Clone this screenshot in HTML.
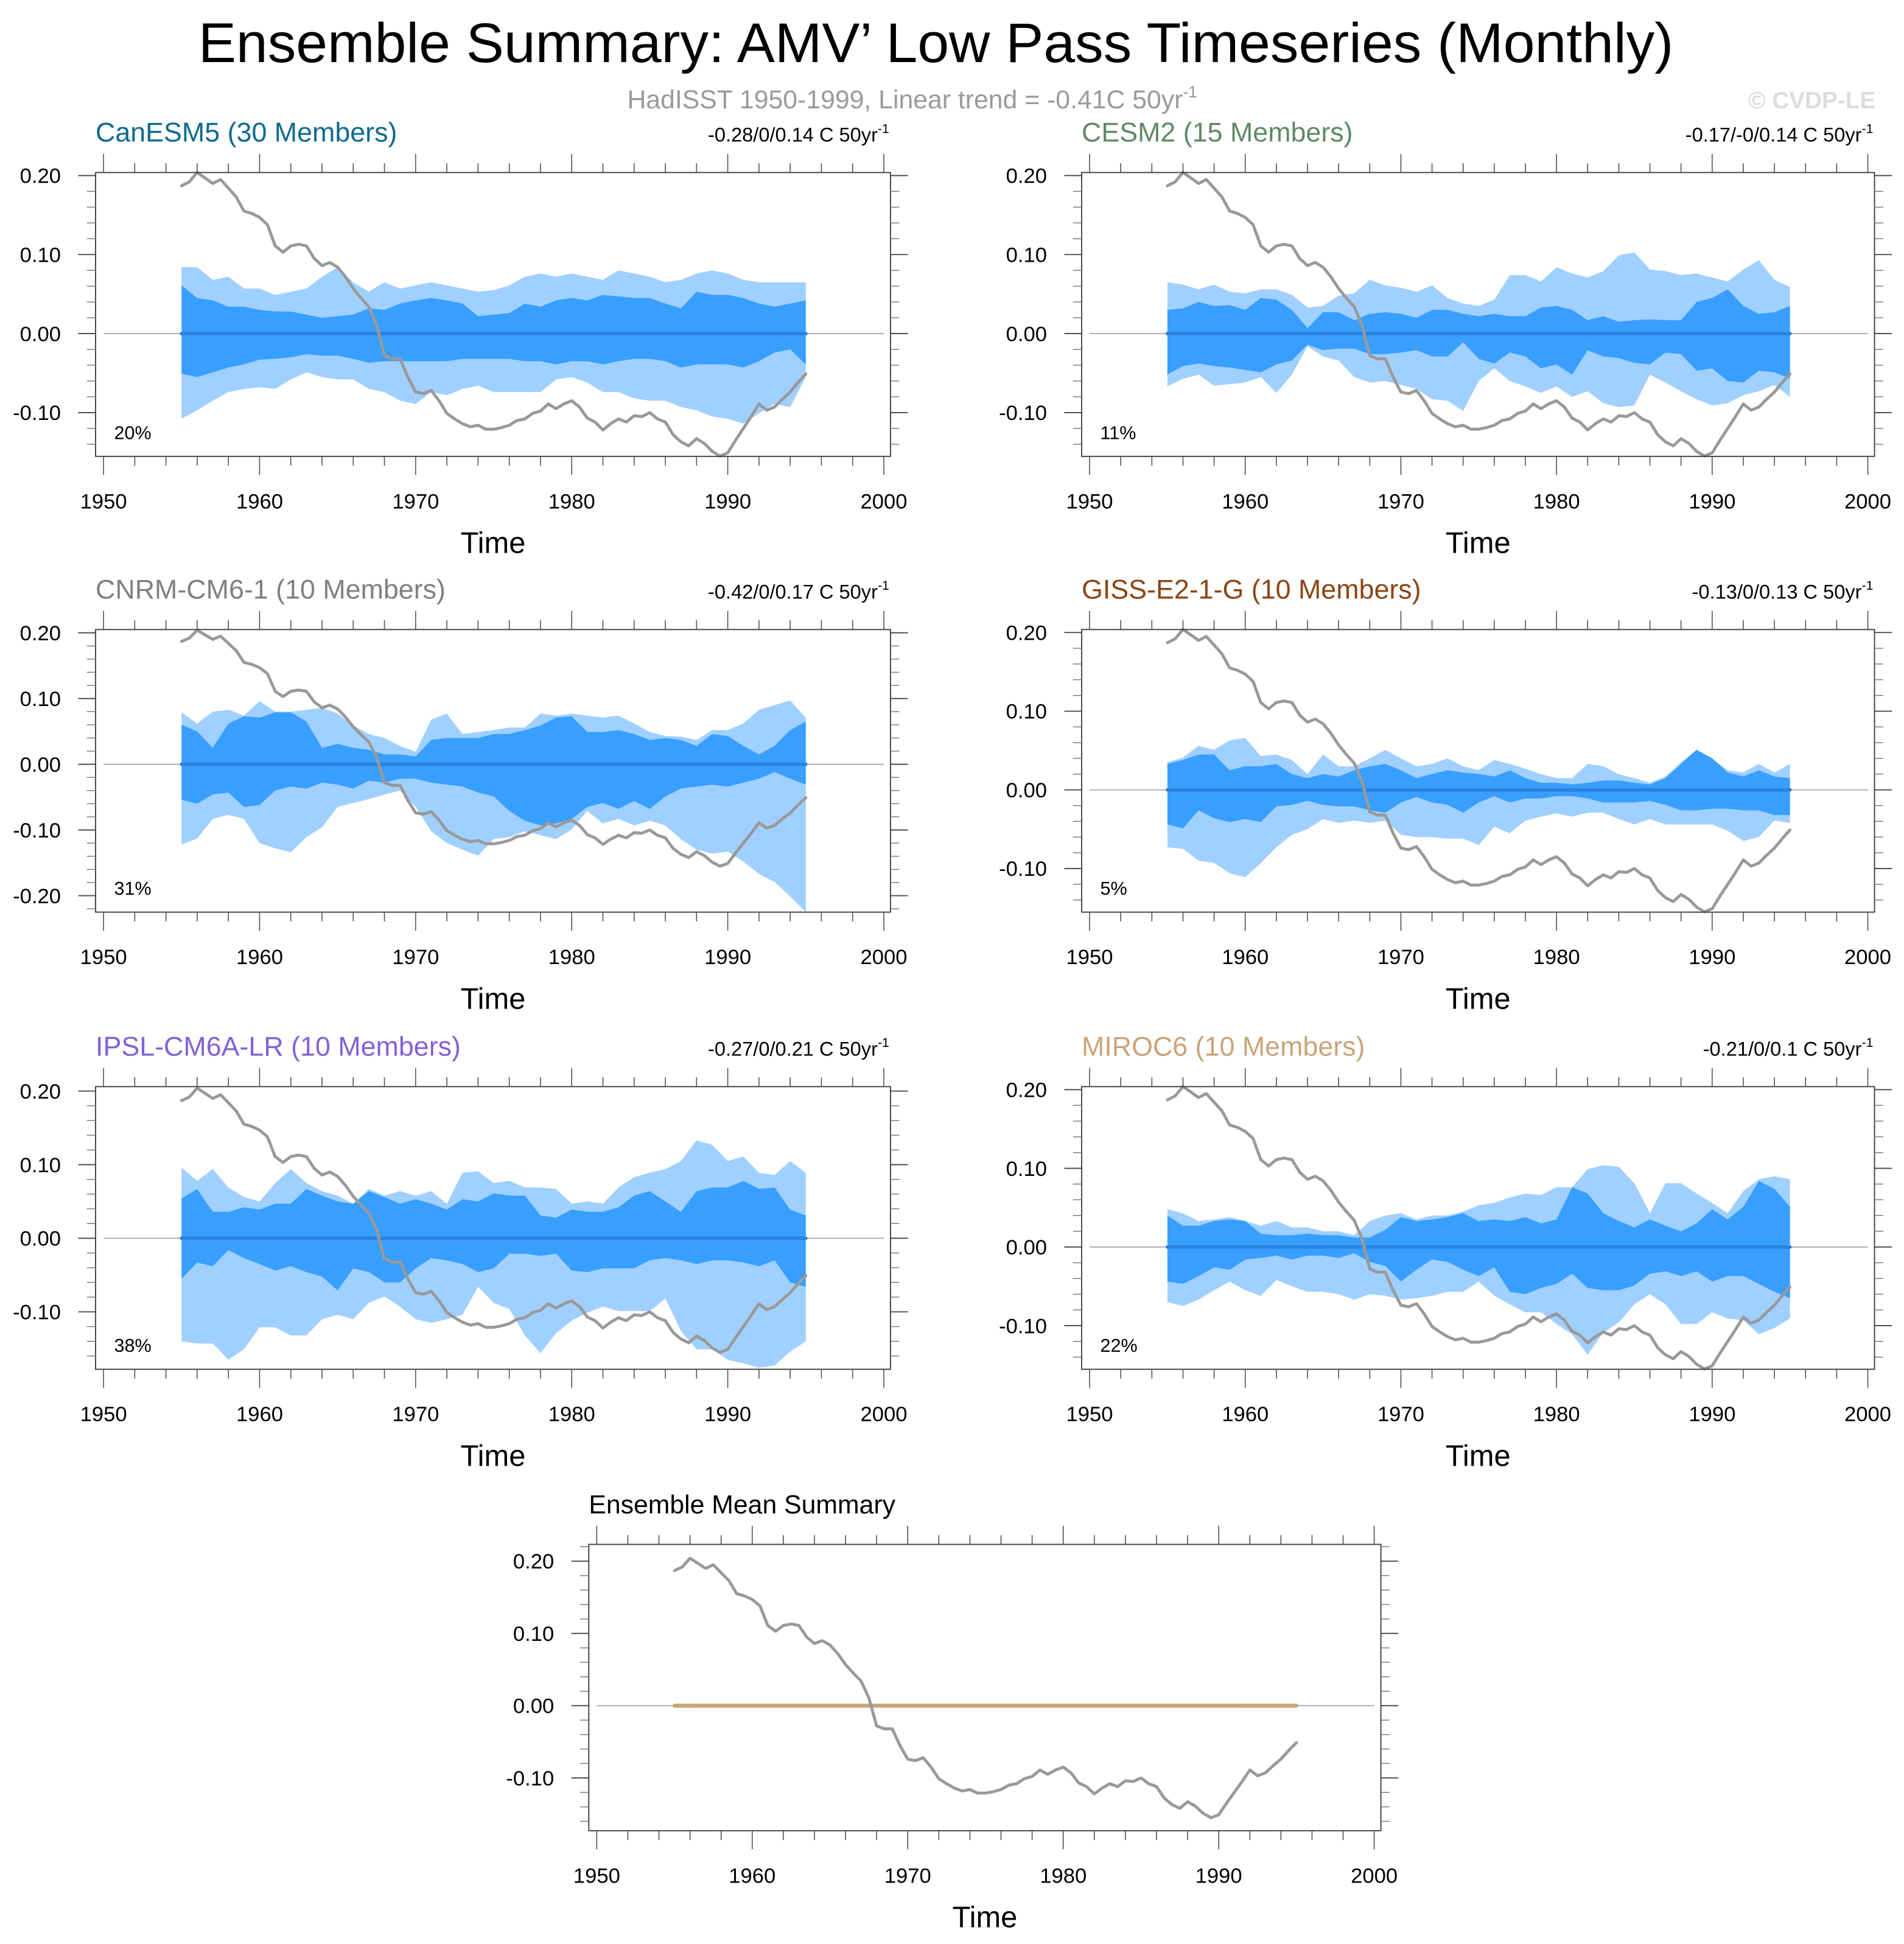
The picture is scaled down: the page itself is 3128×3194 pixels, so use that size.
<!DOCTYPE html>
<html><head><meta charset="utf-8"><title>Ensemble Summary: AMV' Low Pass Timeseries (Monthly)</title>
<style>html,body{margin:0;padding:0;background:#fff}svg{display:block}text{font-family:"Liberation Sans",Arial,sans-serif}</style>
</head><body>
<svg id="chart" xmlns="http://www.w3.org/2000/svg" width="3128" height="3194" viewBox="0 0 1536 1568.4">
<rect x="0" y="0" width="1536" height="1568.4" fill="#fff"/>
<text x="755" y="50" font-size="45" text-anchor="middle" textLength="1190" lengthAdjust="spacingAndGlyphs" fill="#000">Ensemble Summary: AMV’ Low Pass Timeseries (Monthly)</text>
<text x="506" y="87.5" font-size="21" fill="#9a9a9a">HadISST 1950-1999, Linear trend = -0.41C 50yr<tspan font-size="13" dy="-9">-1</tspan></text>
<text x="1513" y="87.5" font-size="19" font-weight="bold" text-anchor="end" fill="#dcdcdc">© CVDP-LE</text>
<g id="panels"></g>
</svg>
<script>
const years=[1955,1956,1957,1958,1959,1960,1961,1962,1963,1964,1965,1966,1967,1968,1969,1970,1971,1972,1973,1974,1975,1976,1977,1978,1979,1980,1981,1982,1983,1984,1985,1986,1987,1988,1989,1990,1991,1992,1993,1994,1995];
const hadYears=[1955,1955.5,1956,1956.5,1957,1957.5,1958,1958.5,1959,1959.5,1960,1960.5,1961,1961.5,1962,1962.5,1963,1963.5,1964,1964.5,1965,1965.5,1966,1966.5,1967,1967.5,1968,1968.5,1969,1969.5,1970,1970.5,1971,1971.5,1972,1972.5,1973,1973.5,1974,1974.5,1975,1975.5,1976,1976.5,1977,1977.5,1978,1978.5,1979,1979.5,1980,1980.5,1981,1981.5,1982,1982.5,1983,1983.5,1984,1984.5,1985,1985.5,1986,1986.5,1987,1987.5,1988,1988.5,1989,1989.5,1990,1990.5,1991,1991.5,1992,1992.5,1993,1993.5,1994,1994.5,1995];
const hadVals=[0.187,0.192,0.204,0.197,0.19,0.195,0.184,0.173,0.155,0.152,0.147,0.138,0.111,0.103,0.111,0.113,0.111,0.095,0.086,0.09,0.084,0.072,0.057,0.045,0.034,0.011,-0.028,-0.032,-0.032,-0.055,-0.074,-0.076,-0.072,-0.085,-0.101,-0.108,-0.114,-0.118,-0.116,-0.121,-0.121,-0.119,-0.116,-0.11,-0.108,-0.101,-0.098,-0.089,-0.095,-0.089,-0.085,-0.093,-0.107,-0.112,-0.122,-0.114,-0.108,-0.112,-0.104,-0.105,-0.1,-0.108,-0.112,-0.128,-0.137,-0.142,-0.133,-0.139,-0.149,-0.155,-0.151,-0.135,-0.12,-0.105,-0.089,-0.097,-0.093,-0.083,-0.074,-0.062,-0.051];
const meanYears=[1955,1995];
const meanVals=[0,0];

const canLU=[.084,.084,.068,.072,.057,.057,.049,.053,.057,.072,.084,.065,.053,.065,.057,.061,.065,.061,.057,.053,.055,.061,.072,.076,.072,.076,.072,.068,.08,.076,.072,.065,.068,.076,.08,.076,.068,.065,.065,.065,.065];
const canDU=[.061,.045,.042,.034,.034,.03,.028,.028,.024,.02,.022,.024,.032,.03,.038,.042,.045,.042,.038,.022,.024,.026,.038,.034,.042,.045,.042,.049,.047,.045,.045,.038,.032,.053,.049,.049,.045,.038,.034,.038,.042];
const canDL=[-.051,-.055,-.049,-.043,-.039,-.033,-.032,-.03,-.026,-.028,-.028,-.032,-.037,-.035,-.035,-.035,-.035,-.035,-.032,-.032,-.032,-.032,-.035,-.035,-.039,-.035,-.035,-.039,-.035,-.032,-.032,-.035,-.043,-.039,-.039,-.039,-.043,-.035,-.024,-.02,-.039];
const canLL=[-.108,-.097,-.085,-.074,-.07,-.068,-.07,-.058,-.049,-.055,-.058,-.058,-.07,-.074,-.085,-.089,-.074,-.078,-.07,-.066,-.074,-.074,-.074,-.074,-.058,-.055,-.062,-.074,-.074,-.082,-.085,-.085,-.093,-.097,-.105,-.108,-.114,-.101,-.089,-.093,-.055];

const cesLU=[.065,.062,.056,.062,.053,.051,.056,.056,.049,.033,.035,.048,.051,.068,.061,.058,.053,.061,.045,.038,.035,.043,.074,.074,.066,.084,.076,.071,.079,.099,.103,.081,.079,.074,.076,.071,.066,.081,.093,.068,.059];
const cesDU=[.03,.032,.04,.035,.036,.03,.045,.043,.03,.007,.027,.027,.017,.025,.027,.025,.02,.03,.03,.025,.022,.025,.022,.022,.033,.035,.03,.017,.022,.015,.017,.018,.017,.017,.04,.045,.056,.035,.025,.027,.035];
const cesDL=[-.052,-.041,-.038,-.041,-.043,-.046,-.049,-.039,-.034,-.014,-.021,-.019,-.019,-.026,-.026,-.024,-.021,-.029,-.029,-.011,-.032,-.038,-.024,-.029,-.044,-.039,-.052,-.021,-.029,-.031,-.037,-.039,-.024,-.026,-.047,-.044,-.06,-.062,-.047,-.049,-.057];
const cesLL=[-.067,-.057,-.052,-.066,-.064,-.062,-.055,-.075,-.052,-.016,-.029,-.034,-.055,-.062,-.06,-.065,-.07,-.083,-.085,-.098,-.06,-.044,-.06,-.067,-.075,-.067,-.08,-.073,-.088,-.093,-.091,-.052,-.062,-.073,-.083,-.091,-.088,-.078,-.073,-.065,-.08];

const cnrmLU=[.079,.062,.08,.083,.074,.096,.08,.08,.083,.086,.077,.059,.046,.04,.028,.019,.068,.077,.046,.049,.052,.056,.056,.077,.074,.077,.074,.071,.074,.062,.049,.043,.042,.037,.052,.052,.062,.083,.09,.097,.071];
const cnrmDU=[.06,.05,.025,.062,.073,.071,.079,.079,.065,.025,.031,.025,.022,.015,.015,.012,.037,.04,.04,.04,.046,.046,.052,.059,.071,.073,.049,.049,.052,.046,.037,.04,.037,.028,.046,.043,.028,.015,.028,.052,.065];
const cnrmDL=[-.054,-.06,-.046,-.043,-.065,-.062,-.04,-.034,-.037,-.028,-.031,-.037,-.025,-.028,-.022,-.022,-.028,-.031,-.034,-.043,-.049,-.071,-.086,-.093,-.09,-.083,-.065,-.059,-.068,-.056,-.068,-.049,-.037,-.034,-.031,-.034,-.028,-.022,-.012,-.022,-.031];
const cnrmLL=[-.122,-.113,-.083,-.077,-.083,-.12,-.128,-.134,-.111,-.096,-.065,-.059,-.053,-.046,-.04,-.065,-.102,-.12,-.13,-.139,-.114,-.111,-.102,-.108,-.114,-.099,-.071,-.09,-.083,-.093,-.086,-.093,-.114,-.13,-.136,-.133,-.148,-.167,-.179,-.201,-.225];

const gissLU=[.035,.041,.056,.051,.063,.066,.043,.045,.038,.02,.045,.03,.03,.04,.051,.04,.03,.033,.04,.03,.025,.038,.033,.027,.02,.015,.015,.033,.03,.02,.015,.009,.017,.035,.051,.04,.025,.022,.033,.022,.033];
const gissDU=[.033,.038,.045,.045,.025,.03,.03,.033,.02,.015,.02,.017,.025,.03,.033,.025,.015,.02,.025,.022,.02,.017,.025,.015,.009,.009,.007,.009,.012,.012,.009,.007,.015,.033,.051,.04,.022,.017,.025,.017,.015];
const gissDL=[-.044,-.049,-.026,-.036,-.041,-.037,-.041,-.021,-.019,-.014,-.019,-.021,-.021,-.026,-.029,-.016,-.009,-.016,-.019,-.029,-.016,-.008,-.016,-.011,-.011,-.008,-.008,-.011,-.016,-.016,-.016,-.014,-.019,-.026,-.026,-.024,-.024,-.026,-.026,-.032,-.032];
const gissLL=[-.073,-.075,-.09,-.093,-.106,-.111,-.093,-.073,-.057,-.05,-.037,-.042,-.039,-.042,-.039,-.057,-.06,-.06,-.062,-.062,-.07,-.047,-.055,-.039,-.034,-.03,-.034,-.029,-.029,-.037,-.044,-.037,-.044,-.044,-.044,-.044,-.052,-.065,-.06,-.039,-.042];

const ipslLU=[.096,.078,.094,.069,.056,.05,.075,.094,.075,.064,.058,.047,.067,.058,.064,.058,.064,.047,.089,.091,.075,.078,.069,.069,.067,.047,.05,.047,.069,.083,.089,.094,.105,.133,.127,.105,.111,.089,.086,.105,.089];
const ipslDU=[.054,.067,.036,.036,.042,.039,.047,.047,.067,.058,.05,.047,.064,.056,.047,.053,.047,.039,.053,.05,.061,.058,.058,.031,.028,.039,.036,.036,.042,.058,.064,.05,.036,.064,.069,.069,.078,.067,.069,.039,.031];
const ipslDL=[-.055,-.033,-.038,-.016,-.027,-.035,-.044,-.038,-.046,-.052,-.071,-.041,-.046,-.06,-.06,-.041,-.027,-.03,-.035,-.046,-.041,-.021,-.021,-.024,-.021,-.044,-.046,-.041,-.041,-.041,-.03,-.027,-.03,-.035,-.03,-.03,-.033,-.038,-.03,-.06,-.066];
const ipslLL=[-.14,-.143,-.143,-.165,-.151,-.121,-.121,-.132,-.132,-.11,-.104,-.11,-.088,-.079,-.093,-.11,-.115,-.11,-.104,-.066,-.088,-.096,-.132,-.156,-.129,-.112,-.101,-.093,-.099,-.099,-.099,-.082,-.126,-.151,-.151,-.165,-.17,-.176,-.173,-.154,-.14];

const mirocLU=[.048,.043,.033,.035,.038,.033,.027,.033,.025,.025,.02,.02,.015,.033,.04,.043,.035,.04,.04,.045,.053,.056,.063,.068,.066,.076,.076,.099,.104,.102,.081,.043,.081,.081,.068,.056,.043,.071,.086,.09,.086];
const mirocDU=[.04,.027,.027,.033,.035,.033,.017,.015,.015,.017,.015,.015,.012,.012,.022,.038,.033,.035,.038,.043,.033,.035,.033,.038,.03,.035,.076,.068,.043,.033,.025,.035,.027,.02,.03,.048,.035,.051,.084,.074,.051];
const mirocDL=[-.044,-.047,-.037,-.026,-.029,-.016,-.014,-.011,-.016,-.011,-.011,-.014,-.008,-.019,-.024,-.044,-.029,-.016,-.019,-.029,-.037,-.026,-.057,-.06,-.052,-.047,-.034,-.052,-.055,-.055,-.049,-.034,-.031,-.037,-.031,-.044,-.037,-.037,-.047,-.057,-.065];
const mirocLL=[-.07,-.075,-.067,-.055,-.044,-.055,-.062,-.042,-.05,-.057,-.057,-.06,-.067,-.06,-.062,-.067,-.065,-.062,-.057,-.057,-.044,-.062,-.073,-.083,-.083,-.098,-.111,-.137,-.109,-.096,-.073,-.06,-.073,-.098,-.098,-.083,-.091,-.093,-.111,-.103,-.091];

const xTicks=[1950,1960,1970,1980,1990,2000];
const xTickLabels=['1950','1960','1970','1980','1990','2000'];
const yTicksStd=[0.2,0.1,0,-0.1];
const yTickLabelsStd=['0.20','0.10','0.00','-0.10'];
const yTicksWide=[0.2,0.1,0,-0.1,-0.2];
const yTickLabelsWide=['0.20','0.10','0.00','-0.10','-0.20'];

const panels=[
 {key:'canesm5',title:'CanESM5 (30 Members)',color:'#0d6a8e',trend:'-0.28/0/0.14 C 50yr',pct:'20%',x:77.1,y:139.2,w:641.3,h:229,ymin:-0.1554,ymax:0.2038,yt:yTicksStd,ytl:yTickLabelsStd,lu:canLU,du:canDU,dl:canDL,ll:canLL},
 {key:'cesm2',title:'CESM2 (15 Members)',color:'#5e8a64',trend:'-0.17/-0/0.14 C 50yr',pct:'11%',x:872.6,y:139.2,w:639.6,h:229,ymin:-0.1554,ymax:0.2038,yt:yTicksStd,ytl:yTickLabelsStd,lu:cesLU,du:cesDU,dl:cesDL,ll:cesLL},
 {key:'cnrm-cm6-1',title:'CNRM-CM6-1 (10 Members)',color:'#808080',trend:'-0.42/0/0.17 C 50yr',pct:'31%',x:77.1,y:507.9,w:641.3,h:228,ymin:-0.225,ymax:0.205,yt:yTicksWide,ytl:yTickLabelsWide,lu:cnrmLU,du:cnrmDU,dl:cnrmDL,ll:cnrmLL},
 {key:'giss-e2-1-g',title:'GISS-E2-1-G (10 Members)',color:'#8b4513',trend:'-0.13/0/0.13 C 50yr',pct:'5%',x:872.6,y:507.9,w:639.6,h:228,ymin:-0.1554,ymax:0.2038,yt:yTicksStd,ytl:yTickLabelsStd,lu:gissLU,du:gissDU,dl:gissDL,ll:gissLL},
 {key:'ipsl-cm6a-lr',title:'IPSL-CM6A-LR (10 Members)',color:'#8360d8',trend:'-0.27/0/0.21 C 50yr',pct:'38%',x:77.1,y:876.7,w:641.3,h:228,ymin:-0.178,ymax:0.206,yt:yTicksStd,ytl:yTickLabelsStd,lu:ipslLU,du:ipslDU,dl:ipslDL,ll:ipslLL},
 {key:'miroc6',title:'MIROC6 (10 Members)',color:'#c9a479',trend:'-0.21/0/0.1 C 50yr',pct:'22%',x:872.6,y:876.7,w:639.6,h:228,ymin:-0.1554,ymax:0.2038,yt:yTicksStd,ytl:yTickLabelsStd,lu:mirocLU,du:mirocDU,dl:mirocDL,ll:mirocLL},
 {key:'ensemble-mean',title:'Ensemble Mean Summary',color:'#000',trend:null,pct:null,x:475,y:1246,w:639,h:231,ymin:-0.173,ymax:0.2232,yt:yTicksStd,ytl:yTickLabelsStd,lu:null}
];

const NS='http://www.w3.org/2000/svg';
const root=document.getElementById('panels');
const XMIN=1949.49, XMAX=2000.43;
function mk(tag,attrs,parent){const e=document.createElementNS(NS,tag);for(const k in attrs)e.setAttribute(k,attrs[k]);parent.appendChild(e);return e;}
function sx(p,yr){return p.x+(yr-XMIN)/(XMAX-XMIN)*p.w;}
function sy(p,v){return p.y+(p.ymax-v)/(p.ymax-p.ymin)*p.h;}

panels.forEach(p=>{
  const g=mk('g',{},root);
  
  
  const z=mk('line',{x1:sx(p,1950),x2:sx(p,2000),y1:sy(p,0),y2:sy(p,0),stroke:'#aaaaaa','stroke-width':0.9},g);
  
  
  if(p.lu){
    let pts=[];
    years.forEach((yr,i)=>pts.push(sx(p,yr).toFixed(2)+','+sy(p,p.lu[i]).toFixed(2)));
    for(let i=years.length-1;i>=0;i--)pts.push(sx(p,years[i]).toFixed(2)+','+sy(p,p.ll[i]).toFixed(2));
    const outer=mk('polygon',{points:pts.join(' '),fill:'#a0d0ff'},g);
    
    
    pts=[];
    years.forEach((yr,i)=>pts.push(sx(p,yr).toFixed(2)+','+sy(p,p.du[i]).toFixed(2)));
    for(let i=years.length-1;i>=0;i--)pts.push(sx(p,years[i]).toFixed(2)+','+sy(p,p.dl[i]).toFixed(2));
    const inner=mk('polygon',{points:pts.join(' '),fill:'#389fff'},g);
    
    
  }
  const mpts=meanYears.map((yr,i)=>sx(p,yr).toFixed(2)+','+sy(p,meanVals[i]).toFixed(2)).join(' ');
  const ml=mk('polyline',{points:mpts,fill:'none',stroke:p.lu?'#2a82e0':'#c9a479','stroke-width':p.lu?2.8:3.2,'stroke-linecap':'round'},g);
  
  
  const hpts=hadYears.map((yr,i)=>sx(p,yr).toFixed(2)+','+sy(p,hadVals[i]).toFixed(2)).join(' ');
  const hl=mk('polyline',{points:hpts,fill:'none',stroke:'#999999','stroke-width':2.4,'stroke-linejoin':'round','stroke-linecap':'round'},g);
  
  
  const box=mk('rect',{x:p.x,y:p.y,width:p.w,height:p.h,fill:'none',stroke:'#3a3a3a','stroke-width':0.9},g);
  
  
  const bot=p.y+p.h, right=p.x+p.w;
  for(let yr=1950;yr<=2000;yr+=2){
    const major=(yr%10===0), L=major?15:7.5, X=sx(p,yr);
    mk('line',{x1:X,x2:X,y1:p.y,y2:p.y-L,stroke:'#555','stroke-width':0.8},g);
    mk('line',{x1:X,x2:X,y1:bot,y2:bot+L,stroke:'#555','stroke-width':0.8},g);
  }
  xTicks.forEach((t,i)=>{
    const tx=mk('text',{x:sx(p,t),y:bot+42,'font-size':17,'text-anchor':'middle',fill:'#000'},g);
    tx.textContent=xTickLabels[i];
    
    
  });
  for(let k=Math.ceil(p.ymin/0.02-1e-6);k<=Math.floor(p.ymax/0.02+1e-6);k++){
    const Y=sy(p,k*0.02);
    mk('line',{x1:p.x,x2:p.x-7,y1:Y,y2:Y,stroke:'#777','stroke-width':0.7},g);
    mk('line',{x1:right,x2:right+7,y1:Y,y2:Y,stroke:'#777','stroke-width':0.7},g);
  }
  p.yt.forEach((t,i)=>{
    const Y=sy(p,t);
    mk('line',{x1:p.x,x2:p.x-14,y1:Y,y2:Y,stroke:'#444','stroke-width':0.9},g);
    mk('line',{x1:right,x2:right+14,y1:Y,y2:Y,stroke:'#444','stroke-width':0.9},g);
    const ty=mk('text',{x:p.x-28,y:Y+6,'font-size':17,'text-anchor':'end',fill:'#000'},g);
    ty.textContent=p.ytl[i];
    
    
  });
  const xt=mk('text',{x:p.x+p.w/2,y:bot+78,'font-size':24,'text-anchor':'middle',fill:'#000'},g);
  xt.textContent='Time';
  
  
  const tt=mk('text',{x:p.x,y:p.y-25,'font-size':p.lu?22:21,fill:p.color},g);
  tt.textContent=p.title;
  
  
  if(p.trend){
    const tr=mk('text',{x:right-1,y:p.y-25,'font-size':16,'text-anchor':'end',fill:'#000'},g);
    tr.textContent=p.trend;
    const sup=mk('tspan',{'font-size':10.5,dy:-7},tr);
    sup.textContent='-1';
    
    
  }
  if(p.pct){
    const pc=mk('text',{x:p.x+15,y:bot-14,'font-size':15,fill:'#000'},g);
    pc.textContent=p.pct;
    
    
  }
});
</script>
</body></html>
